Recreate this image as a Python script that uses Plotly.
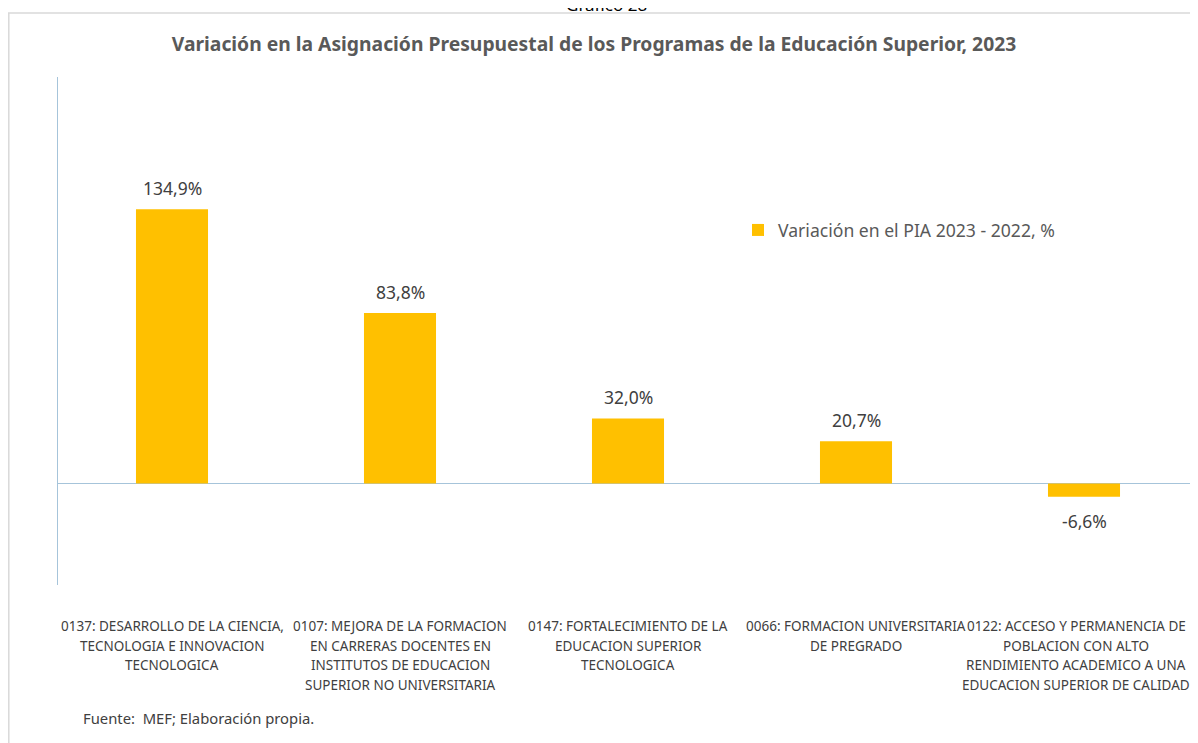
import plotly.graph_objects as go

categories = [
    "0137: DESARROLLO DE LA CIENCIA,<br>TECNOLOGIA E INNOVACION<br>TECNOLOGICA",
    "0107: MEJORA DE LA FORMACION<br>EN CARRERAS DOCENTES EN<br>INSTITUTOS DE EDUCACION<br>SUPERIOR NO UNIVERSITARIA",
    "0147: FORTALECIMIENTO DE LA<br>EDUCACION SUPERIOR<br>TECNOLOGICA",
    "0066: FORMACION UNIVERSITARIA<br>DE PREGRADO",
    "0122: ACCESO Y PERMANENCIA DE<br>POBLACION CON ALTO<br>RENDIMIENTO ACADEMICO A UNA<br>EDUCACION SUPERIOR DE CALIDAD",
]
values = [134.9, 83.8, 32.0, 20.7, -6.6]
series_name = "Variación en el PIA 2023 - 2022, %"
title = "Variación en la Asignación Presupuestal de los Programas de la Educación Superior, 2023"
source = "Fuente:  MEF; Elaboración propia."
header = "Gráfico 28"

labels = [f"{v:.1f}".replace(".", ",") + "%" for v in values]

# figure is drawn inside the page body (8 px default margin); layout in figure pixels
W, H = 1190, 735
L, T, PW, PH = 50, 69, 1140, 508
B = H - T - PH


def px(xp):
    return (xp - 8 - L) / PW


def py(yp):
    return (T + PH - (yp - 8)) / PH


fig = go.Figure()
fig.add_trace(go.Bar(
    x=categories, y=values, name=series_name,
    marker=dict(color="#FFC000", line=dict(width=0)),
    showlegend=True,
))

ann = []
for c, v, t in zip(categories, values, labels):
    ann.append(dict(x=c, y=v, xref="x", yref="y", text=t, showarrow=False,
                    yanchor="bottom" if v >= 0 else "top",
                    yshift=7 if v >= 0 else -10,
                    font=dict(size=17.5, color="#404040", family="Noto Sans")))

# category labels, one annotation per line to match the line spacing
n = len(categories)
for k, c in enumerate(categories):
    for i, line in enumerate(c.split("<br>")):
        ann.append(dict(x=c, y=py(626 + 19.6 * i), xref="x", yref="paper", text=line,
                        showarrow=False, xanchor="center", yanchor="middle",
                        xshift=-8 if k == n - 1 else 0,
                        font=dict(size=13.5, color="#404040", family="Noto Sans")))

ann.append(dict(x=px(606), y=py(4), xref="paper", yref="paper", text=header, showarrow=False,
                xanchor="center", yanchor="middle", font=dict(size=17, color="#000000", family="Noto Sans")))
ann.append(dict(x=px(81), y=py(718), xref="paper", yref="paper", text=source,
                showarrow=False, xanchor="left", yanchor="middle",
                font=dict(size=14.8, color="#404040", family="Noto Sans")))

fig.update_layout(
    width=W, height=H,
    margin=dict(l=L, r=0, t=T, b=B, autoexpand=False),
    paper_bgcolor="white", plot_bgcolor="white",
    bargap=0.684,
    title=dict(text="<b>" + title + "</b>", x=px(594), xanchor="center", xref="paper",
               y=1 - (44 - 8) / H, yanchor="middle",
               font=dict(size=19.3, color="#595959", family="Noto Sans")),
    legend=dict(x=px(738), y=py(230), xanchor="left", yanchor="middle",
                font=dict(size=17.6, color="#595959", family="Noto Sans"), bgcolor="rgba(0,0,0,0)"),
    annotations=ann,
    shapes=[
        dict(type="line", xref="paper", yref="paper", x0=px(3), x1=px(1200),
             y0=py(13), y1=py(13), line=dict(color="#d9d9d9", width=1.5)),
        dict(type="line", xref="paper", yref="paper", x0=px(8.8), x1=px(8.8),
             y0=py(13), y1=py(760), line=dict(color="#d9d9d9", width=1.5)),
    ],
)
fig.update_xaxes(showgrid=False, showline=False, ticks="", showticklabels=False,
                 automargin=False)
fig.update_yaxes(range=[-50, 200], showgrid=False, showticklabels=False, ticks="",
                 automargin=False,
                 showline=True, linecolor="#a6c4da", linewidth=1.2,
                 zeroline=True, zerolinecolor="#a6c4da", zerolinewidth=1.2)

fig.write_html("out.html")
